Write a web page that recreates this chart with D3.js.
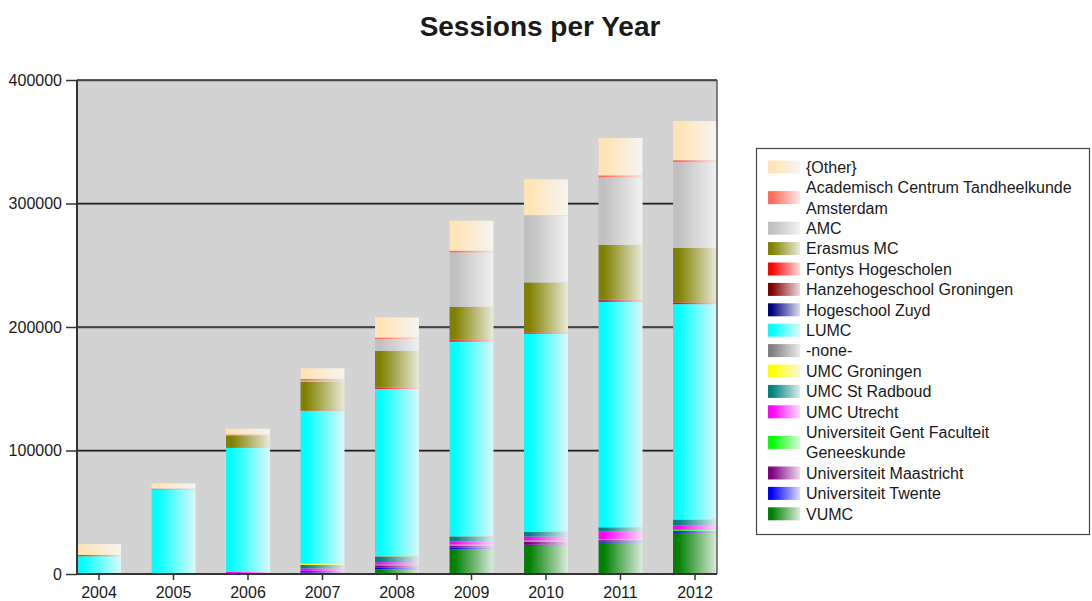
<!DOCTYPE html>
<html>
<head>
<meta charset="utf-8">
<script src="https://cdn.jsdelivr.net/npm/d3@7/dist/d3.min.js"></script>
<style>
  body { margin: 0; background: #fff; }
  text { font-family: "Liberation Sans", Arial, sans-serif; fill: #1a1a1a; }
</style>
</head>
<body>
<div id="chart"></div>
<script>
// years on the x axis
let years = ["2004", "2005", "2006", "2007", "2008", "2009", "2010", "2011", "2012"];

// sessions per institution (bottom of the stack first)
let vumc        = [0, 0, 0, 500, 3800, 20000, 22900, 25400, 33200];
let twente      = [0, 0, 0, 800, 1600, 1400, 800, 1000, 700];
let maastricht  = [0, 0, 300, 1200, 1600, 1500, 2400, 1000, 900];
let gent        = [0, 0, 0, 0, 600, 900, 1000, 1000, 1000];
let utrecht     = [0, 0, 1500, 2000, 2000, 2700, 3200, 5900, 3400];
let radboud     = [0, 0, 0, 2800, 4600, 3800, 4000, 3500, 4900];
let groningen   = [0, 0, 0, 1200, 200, 0, 0, 0, 0];
let none        = [0, 0, 0, 0, 400, 300, 0, 0, 0];
let lumc        = [14300, 68300, 100300, 123500, 135100, 157700, 160300, 182800, 174400];
let zuyd        = [0, 0, 0, 0, 0, 0, 0, 800, 0];
let hanze       = [0, 0, 0, 0, 0, 600, 0, 0, 0];
let fontys      = [0, 0, 0, 400, 1000, 800, 1000, 800, 1400];
let erasmus     = [1200, 400, 9700, 23400, 29700, 26700, 40500, 44300, 44200];
let amc         = [0, 700, 0, 800, 9700, 44000, 54000, 54700, 69400];
let acta        = [0, 0, 1200, 1400, 1200, 1400, 300, 1600, 1600];
let other       = [8700, 4000, 4600, 8600, 16200, 24300, 29200, 30200, 31600];

let yTicks = [0, 100000, 200000, 300000, 400000];

let series = [
	{ name: "VUMC", values: vumc, color: "#008000" },
	{ name: "Universiteit Twente", values: twente, color: "#0000ff" },
	{ name: "Universiteit Maastricht", values: maastricht, color: "#800080" },
	{ name: "Universiteit Gent Faculteit Geneeskunde", values: gent, color: "#00ff00" },
	{ name: "UMC Utrecht", values: utrecht, color: "#ff00ff" },
	{ name: "UMC St Radboud", values: radboud, color: "#008080" },
	{ name: "UMC Groningen", values: groningen, color: "#ffff00" },
	{ name: "-none-", values: none, color: "#808080" },
	{ name: "LUMC", values: lumc, color: "#00ffff" },
	{ name: "Hogeschool Zuyd", values: zuyd, color: "#000080" },
	{ name: "Hanzehogeschool Groningen", values: hanze, color: "#800000" },
	{ name: "Fontys Hogescholen", values: fontys, color: "#ff0000" },
	{ name: "Erasmus MC", values: erasmus, color: "#808000" },
	{ name: "AMC", values: amc, color: "#c0c0c0" },
	{ name: "Academisch Centrum Tandheelkunde Amsterdam", values: acta, color: "#ff6a5a" },
	{ name: "{Other}", values: other, color: "#ffe4b5" }
];

let svgWidth = 1092;
let svgHeight = 601;
let plot = { left: 77, right: 717, top: 80, bottom: 574 };

let svg = d3.select("#chart")
	.append("svg")
	.attr("width", svgWidth)
	.attr("height", svgHeight);

let defs = svg.append("defs");
series.forEach(function(s, i) {
	let g = defs.append("linearGradient")
		.attr("id", "grad" + i)
		.attr("x1", 0).attr("x2", 1).attr("y1", 0).attr("y2", 0);
	g.append("stop").attr("offset", "0%").attr("stop-color", s.color);
	g.append("stop").attr("offset", "12%").attr("stop-color", s.color);
	g.append("stop").attr("offset", "100%").attr("stop-color", d3.interpolateRgb(s.color, "#f6f6f6")(0.9));
});

// table for d3.stack
let rows = years.map(function(y, i) {
	let row = { year: y };
	series.forEach(s => row[s.name] = s.values[i]);
	return row;
});

let stack = d3.stack().keys(series.map(s => s.name));
let layers = stack(rows);

let x = d3.scaleBand()
	.domain(years)
	.range([plot.left, plot.right])
	.paddingInner(0.41)
	.paddingOuter(0);

let y = d3.scaleLinear()
	.domain([0, 400000])
	.range([plot.bottom, plot.top]);

// title
svg.append("text")
	.attr("x", 540)
	.attr("y", 36)
	.attr("text-anchor", "middle")
	.style("font-size", "28px")
	.style("font-weight", "bold")
	.text("Sessions per Year");

// plot background
svg.append("rect")
	.attr("x", plot.left)
	.attr("y", plot.top)
	.attr("width", plot.right - plot.left)
	.attr("height", plot.bottom - plot.top)
	.attr("fill", "#d3d3d3");

// gridlines
let grid = svg.append("g");
yTicks.filter(t => t > 0).forEach(function(t) {
	grid.append("line")
		.attr("x1", plot.left).attr("x2", plot.right)
		.attr("y1", y(t) + 1).attr("y2", y(t) + 1)
		.attr("stroke", "#8a8a8a").attr("stroke-width", 1);
	grid.append("line")
		.attr("x1", plot.left).attr("x2", plot.right)
		.attr("y1", y(t)).attr("y2", y(t))
		.attr("stroke", "#222").attr("stroke-width", 1.3);
});

// bars
let barGroup = svg.append("g");
layers.forEach(function(layer, i) {
	barGroup.selectAll(null)
		.data(layer)
		.enter()
		.append("rect")
		.attr("x", d => x(d.data.year))
		.attr("y", d => y(d[1]))
		.attr("width", x.bandwidth())
		.attr("height", d => y(d[0]) - y(d[1]))
		.attr("fill", "url(#grad" + i + ")");
});

// right border of plot
svg.append("line")
	.attr("x1", plot.right).attr("x2", plot.right)
	.attr("y1", plot.top).attr("y2", plot.bottom)
	.attr("stroke", "#444").attr("stroke-width", 1.3);

// axes
let leftAxis = d3.axisLeft(y).tickValues(yTicks).tickSize(11).tickPadding(4).tickFormat(d3.format("d"));
let bottomAxis = d3.axisBottom(x).tickSize(6).tickPadding(7);

let yAxisG = svg.append("g")
	.attr("transform", `translate(${plot.left}, 0)`)
	.call(leftAxis);
let xAxisG = svg.append("g")
	.attr("transform", `translate(0, ${plot.bottom})`)
	.call(bottomAxis);

[yAxisG, xAxisG].forEach(function(g) {
	g.selectAll(".domain").attr("stroke", "#333").attr("stroke-width", 2);
	g.selectAll(".tick line").attr("stroke", "#333").attr("stroke-width", 1.5);
	g.selectAll(".tick text")
		.style("font-size", "16px")
		.style("font-family", "'Liberation Sans', Arial, sans-serif")
		.attr("fill", "#1a1a1a");
});
yAxisG.select(".domain").attr("d", `M0,${plot.top}V${plot.bottom}`);
xAxisG.select(".domain").attr("d", `M${plot.left},0H${plot.right}`);

// legend
let legend = svg.append("g");
legend.append("rect")
	.attr("x", 756.5).attr("y", 148.5)
	.attr("width", 333).attr("height", 386)
	.attr("fill", "#fff")
	.attr("stroke", "#444").attr("stroke-width", 1.2);

let lineH = 20.4;
let cursor = 167;
let maxTextW = 278;
series.slice().reverse().forEach(function(s) {
	let i = series.indexOf(s);
	let t = legend.append("text")
		.attr("x", 806)
		.style("font-size", "16px");
	// wrap the label at the legend width
	let words = s.name.split(" ");
	let lines = [];
	let cur = [];
	let probe = t.append("tspan");
	words.forEach(function(w) {
		let trial = cur.concat([w]).join(" ");
		probe.text(trial);
		if (probe.node().getComputedTextLength() > maxTextW && cur.length) {
			lines.push(cur.join(" "));
			cur = [w];
		} else {
			cur.push(w);
		}
	});
	lines.push(cur.join(" "));
	probe.remove();
	lines.forEach(function(l, k) {
		t.append("tspan")
			.attr("x", 806)
			.attr("y", cursor + k * lineH)
			.attr("dy", "0.36em")
			.text(l);
	});
	let mid = cursor + (lines.length - 1) * lineH / 2;
	legend.append("rect")
		.attr("x", 768).attr("y", mid - 6.5)
		.attr("width", 32).attr("height", 13)
		.attr("fill", "url(#grad" + i + ")");
	cursor += lines.length * lineH;
});
</script>
</body>
</html>
